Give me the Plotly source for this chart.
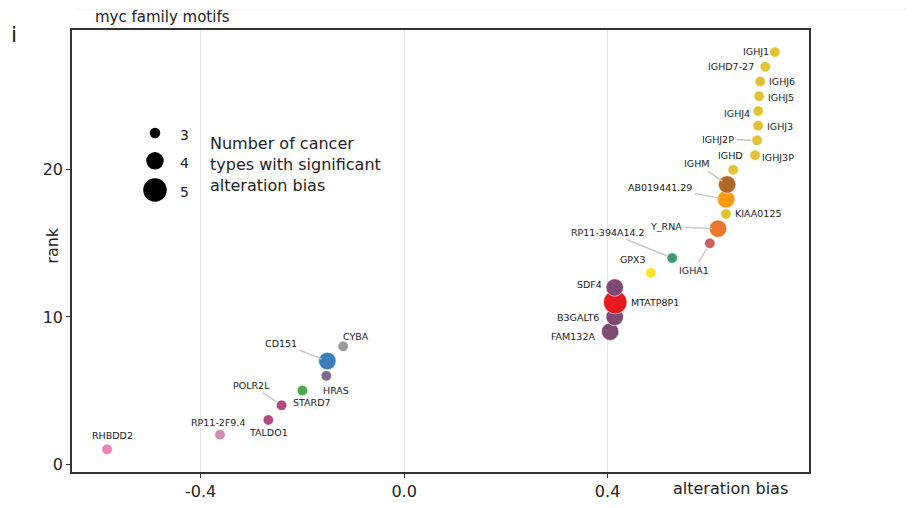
import plotly.graph_objects as go

# ---------------- data ----------------
genes = ["RHBDD2", "RP11-2F9.4", "TALDO1", "POLR2L", "STARD7", "HRAS", "CD151", "CYBA",
         "FAM132A", "B3GALT6", "MTATP8P1", "SDF4", "GPX3", "RP11-394A14.2", "IGHA1", "Y_RNA",
         "KIAA0125", "AB019441.29", "IGHM", "IGHD", "IGHJ3P", "IGHJ2P", "IGHJ3", "IGHJ4",
         "IGHJ5", "IGHJ6", "IGHD7-27", "IGHJ1"]
alteration_bias = [-0.584, -0.362, -0.267, -0.241, -0.200, -0.153, -0.151, -0.120,
                   0.405, 0.414, 0.415, 0.414, 0.485, 0.527, 0.601, 0.617,
                   0.633, 0.633, 0.635, 0.647, 0.690, 0.694, 0.696, 0.696,
                   0.698, 0.700, 0.710, 0.729]
rank = list(range(1, 29))
n_cancer_types = [3, 3, 3, 3, 3, 3, 4, 3,
                  4, 4, 5, 4, 3, 3, 3, 4,
                  3, 4, 4, 3, 3, 3, 3, 3,
                  3, 3, 3, 3]
colors = ["#f07fb6", "#d38cb5", "#ad4d7d", "#b3477f", "#4ea94f", "#7d6a8c", "#3a7fb8", "#9a9a9a",
          "#7d4a73", "#7d4a73", "#e41a1c", "#7d4a73", "#ffe32e", "#3e9a6f", "#cc6060", "#e8762d",
          "#e1c131", "#ff9b0d", "#b0682a", "#e2c234", "#e2c234", "#e2c234", "#e2c234", "#e2c234",
          "#e2c234", "#e2c234", "#e2c234", "#e2c234"]

legend_sizes = [3, 4, 5]
x_ticks = [-0.4, 0.0, 0.4]
y_ticks = [0, 10, 20]

# ---------------- styling ----------------
SIZE_PX = {3: 10.5, 4: 17.5, 5: 23.5}
FONT = "DejaVu Sans"
LEGEND_Y = [0.767, 0.704, 0.638]
# label offsets (pixels, text centre relative to point; dy positive = down), leader line flag
LABEL_POS = {
    "RHBDD2": (5, -14, False), "RP11-2F9.4": (-2, -12, False), "TALDO1": (0, 13, False),
    "POLR2L": (-30, -20, True), "STARD7": (10, 12, False), "HRAS": (10, 15, False),
    "CD151": (-46, -18, True), "CYBA": (13, -10, False),
    "FAM132A": (-37, 5, False), "B3GALT6": (-37, 1, False), "MTATP8P1": (40, 0, False),
    "SDF4": (-25, -3, False), "GPX3": (-18, -13, False), "RP11-394A14.2": (-64, -26, True),
    "IGHA1": (-16, 27, True), "Y_RNA": (-52, -2, True), "KIAA0125": (32, 0, False),
    "AB019441.29": (-66, -12, True), "IGHM": (-30, -21, True), "IGHD": (-3, -14, False),
    "IGHJ3P": (23, 2, False), "IGHJ2P": (-39, -1, True), "IGHJ3": (22, 1, False),
    "IGHJ4": (-21, 3, False), "IGHJ5": (22, 1, False), "IGHJ6": (22, 0, False),
    "IGHD7-27": (-34, 0, False), "IGHJ1": (-19, -1, False),
}

fig = go.Figure()

fig.add_trace(go.Scatter(
    x=alteration_bias, y=rank, mode="markers",
    marker=dict(size=[SIZE_PX[n] for n in n_cancer_types], color=colors,
                line=dict(color="white", width=0.6), opacity=1),
    hovertext=genes, showlegend=False))

# size legend on an overlay axis in 0..1 space
fig.add_trace(go.Scatter(
    x=[0.1126] * 3, y=LEGEND_Y, mode="markers",
    marker=dict(size=[SIZE_PX[s] for s in legend_sizes], color="#000000", opacity=1,
                line=dict(color="#000000", width=0)),
    xaxis="x2", yaxis="y2", showlegend=False, cliponaxis=False))

annotations = []
for g, xv, yv in zip(genes, alteration_bias, rank):
    dx, dy, leader = LABEL_POS[g]
    if leader:
        annotations.append(dict(x=xv, y=yv, xref="x", yref="y", text=g, showarrow=True,
                                ax=dx, ay=dy, arrowhead=0, arrowwidth=1.5,
                                arrowcolor="#c8c8c8", standoff=6, startstandoff=1,
                                font=dict(family=FONT, size=9.5, color="#222")))
    else:
        annotations.append(dict(x=xv, y=yv, xref="x", yref="y", text=g, showarrow=False,
                                xshift=dx, yshift=-dy,
                                font=dict(family=FONT, size=9.5, color="#222")))

for s, ly in zip(legend_sizes, LEGEND_Y):
    annotations.append(dict(x=0.153, y=ly - 0.005, xref="paper", yref="paper", text=str(s),
                            showarrow=False, xanchor="center", yanchor="middle",
                            font=dict(family=FONT, size=14, color="#222")))

annotations += [
    dict(x=0.0285, y=1.029, xref="paper", yref="paper", text="myc family motifs",
         showarrow=False, xanchor="left", yanchor="middle",
         font=dict(family=FONT, size=15, color="#222")),
    dict(x=-0.079, y=0.99, xref="paper", yref="paper", text="i",
         showarrow=False, xanchor="center", yanchor="middle",
         font=dict(family=FONT, size=22, color="#222")),
    dict(x=0.894, y=-0.038, xref="paper", yref="paper", text="alteration bias",
         showarrow=False, xanchor="center", yanchor="middle",
         font=dict(family=FONT, size=16, color="#222")),
    dict(x=-0.026, y=0.514, xref="paper", yref="paper", text="rank", textangle=-90,
         showarrow=False, xanchor="center", yanchor="middle",
         font=dict(family=FONT, size=16, color="#222")),
    dict(x=0.184, y=0.695, xref="paper", yref="paper",
         text="Number of cancer<br>types with significant<br>alteration bias",
         showarrow=False, xanchor="left", yanchor="middle", align="left",
         font=dict(family=FONT, size=16, color="#222")),
]

fig.update_layout(
    width=915, height=508,
    margin=dict(l=64, r=114, t=22, b=44),
    paper_bgcolor="white", plot_bgcolor="white",
    font=dict(family=FONT, color="#222"),
    annotations=annotations,
    xaxis=dict(range=[-0.653, 0.796], tickvals=x_ticks,
               ticktext=[f"{v:.1f}" for v in x_ticks],
               showgrid=True, gridcolor="#e6e6e6", gridwidth=1, zeroline=False,
               showline=True, mirror=True, linecolor="#333", linewidth=1.5,
               ticks="outside", ticklen=4, tickcolor="#333",
               tickfont=dict(family=FONT, size=16, color="#222")),
    yaxis=dict(range=[-0.54, 29.5], tickvals=y_ticks,
               showgrid=False, zeroline=False,
               showline=True, mirror=True, linecolor="#333", linewidth=1.5,
               ticks="outside", ticklen=4, tickcolor="#333",
               tickfont=dict(family=FONT, size=16, color="#222")),
    xaxis2=dict(overlaying="x", range=[0, 1], visible=False, anchor="y2"),
    yaxis2=dict(overlaying="y", range=[0, 1], visible=False, anchor="x2"),
    shapes=[dict(type="line", xref="paper", yref="paper", x0=0.004, x1=1.16,
                 y0=1.047, y1=1.047, line=dict(color="#efefef", width=1))],
)

fig.write_html("out.html")
